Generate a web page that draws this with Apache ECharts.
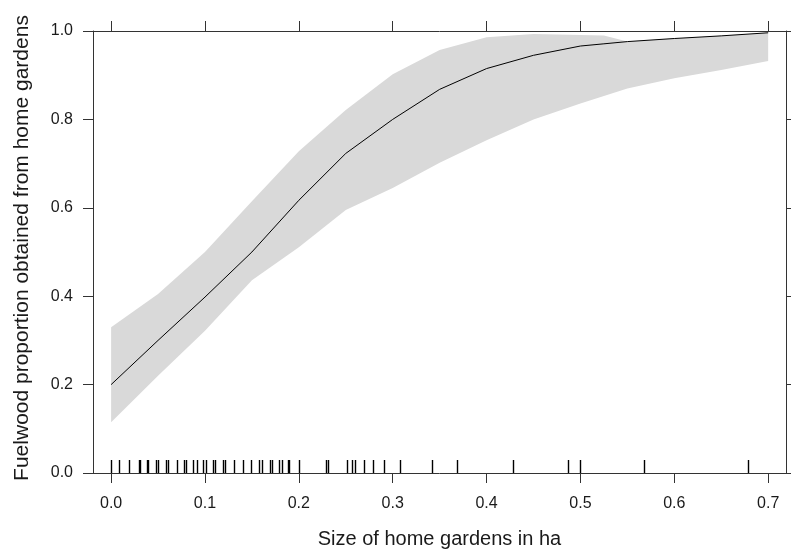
<!DOCTYPE html>
<html>
<head>
<meta charset="utf-8">
<script src="https://cdn.jsdelivr.net/npm/echarts@6/dist/echarts.min.js"></script>
<style>html,body{margin:0;padding:0;background:#fff;}#c{width:791px;height:549px;}</style>
</head>
<body>
<div id="c"></div>
<script>
var xs    = [0, 0.05, 0.1, 0.15, 0.2, 0.25, 0.3, 0.35, 0.4, 0.45, 0.5, 0.525, 0.55, 0.6, 0.65, 0.7];
var fit   = [0.200, 0.300, 0.398, 0.500, 0.617, 0.723, 0.800, 0.868, 0.915, 0.945, 0.966, 0.971, 0.976, 0.983, 0.989, 0.996];
var upper = [0.330, 0.405, 0.500, 0.615, 0.728, 0.821, 0.902, 0.957, 0.986, 0.993, 0.991, 0.990, 0.976, 0.983, 0.989, 0.996];
var lower = [0.115, 0.220, 0.322, 0.436, 0.511, 0.595, 0.645, 0.702, 0.753, 0.800, 0.836, 0.853, 0.870, 0.893, 0.912, 0.932];
var rug = [0.0, 0.0085, 0.019, 0.030, 0.031, 0.038, 0.039, 0.048, 0.050, 0.058, 0.061, 0.070, 0.078, 0.080,
           0.087, 0.091, 0.098, 0.101, 0.109, 0.111, 0.119, 0.121, 0.131, 0.140, 0.149, 0.158, 0.161, 0.169,
           0.171, 0.179, 0.182, 0.188, 0.190, 0.200, 0.229, 0.231, 0.251, 0.257, 0.260, 0.269, 0.279, 0.291,
           0.308, 0.342, 0.368, 0.428, 0.487, 0.500, 0.568, 0.679];
var xTicks = [0, 0.1, 0.2, 0.3, 0.4, 0.5, 0.6, 0.7];
var xTitle = 'Size of home gardens in ha';
var yTitle = 'Fuelwood proportion obtained from home gardens';

var chart = echarts.init(document.getElementById('c'), null, {renderer: 'canvas'});
var txt = '#1a1a1a', ax = '#333';
var fontFam = 'Liberation Sans, Arial, sans-serif';
var fmt = function (v) { return (+v).toFixed(1); };

chart.setOption({
  animation: false,
  backgroundColor: '#fff',
  grid: {left: 93, right: 5, top: 31, bottom: 76, containLabel: false, outerBoundsMode: 'none'},
  xAxis: [{
    type: 'value', position: 'bottom', min: -0.0193, max: 0.719,
    splitLine: {show: false},
    axisLine: {show: true, onZero: false, lineStyle: {color: ax, width: 1}},
    axisTick: {show: true, inside: false, length: 10, customValues: xTicks, lineStyle: {color: ax}},
    axisLabel: {show: true, customValues: xTicks, formatter: fmt, margin: 23, color: txt, fontSize: 16, fontFamily: fontFam},
    name: xTitle, nameLocation: 'middle', nameGap: 56,
    nameTextStyle: {color: txt, fontSize: 20, fontFamily: fontFam}
  }, {
    type: 'value', position: 'top', min: -0.0193, max: 0.719,
    splitLine: {show: false},
    axisLine: {show: true, onZero: false, lineStyle: {color: ax, width: 1}},
    axisTick: {show: true, inside: false, length: 10, customValues: xTicks, lineStyle: {color: ax}},
    axisLabel: {show: false}
  }],
  yAxis: [{
    type: 'value', position: 'left', min: 0, max: 1, interval: 0.2,
    splitLine: {show: false},
    axisLine: {show: true, onZero: false, lineStyle: {color: ax, width: 1}},
    axisTick: {show: true, inside: false, length: 10, lineStyle: {color: ax}},
    axisLabel: {show: true, formatter: fmt, margin: 20, color: txt, fontSize: 16, fontFamily: fontFam},
    name: yTitle, nameLocation: 'middle', nameGap: 60,
    nameTextStyle: {color: txt, fontSize: 21, fontFamily: fontFam, padding: [0, 0, 0, 8]}
  }, {
    type: 'value', position: 'right', min: 0, max: 1, interval: 0.2,
    splitLine: {show: false},
    axisLine: {show: true, onZero: false, lineStyle: {color: ax, width: 1}},
    axisTick: {show: true, inside: false, length: 10, lineStyle: {color: ax}},
    axisLabel: {show: false}
  }],
  series: [{
    type: 'custom',
    xAxisIndex: 0, yAxisIndex: 0,
    data: [[0, 0]],
    silent: true,
    z: 1,
    renderItem: function (params, api) {
      var pts = [];
      for (var i = 0; i < xs.length; i++) pts.push(api.coord([xs[i], upper[i]]));
      for (var j = xs.length - 1; j >= 0; j--) pts.push(api.coord([xs[j], lower[j]]));
      return {type: 'polygon', shape: {points: pts}, style: {fill: '#d9d9d9', stroke: null}};
    }
  }, {
    type: 'line',
    xAxisIndex: 0, yAxisIndex: 0,
    data: xs.map(function (x, i) { return [x, fit[i]]; }),
    showSymbol: false, smooth: false,
    lineStyle: {color: '#000', width: 1},
    z: 3
  }, {
    type: 'custom',
    xAxisIndex: 0, yAxisIndex: 0,
    data: rug.map(function (v) { return [v, 0]; }),
    silent: true,
    z: 4,
    renderItem: function (params, api) {
      var p = api.coord([api.value(0), 0]);
      var x = Math.round(p[0]) + 0.5;
      return {type: 'line', shape: {x1: x, y1: p[1], x2: x, y2: p[1] - 13},
              style: {stroke: '#000', lineWidth: 1.4}};
    }
  }]
});
</script>
</body>
</html>
